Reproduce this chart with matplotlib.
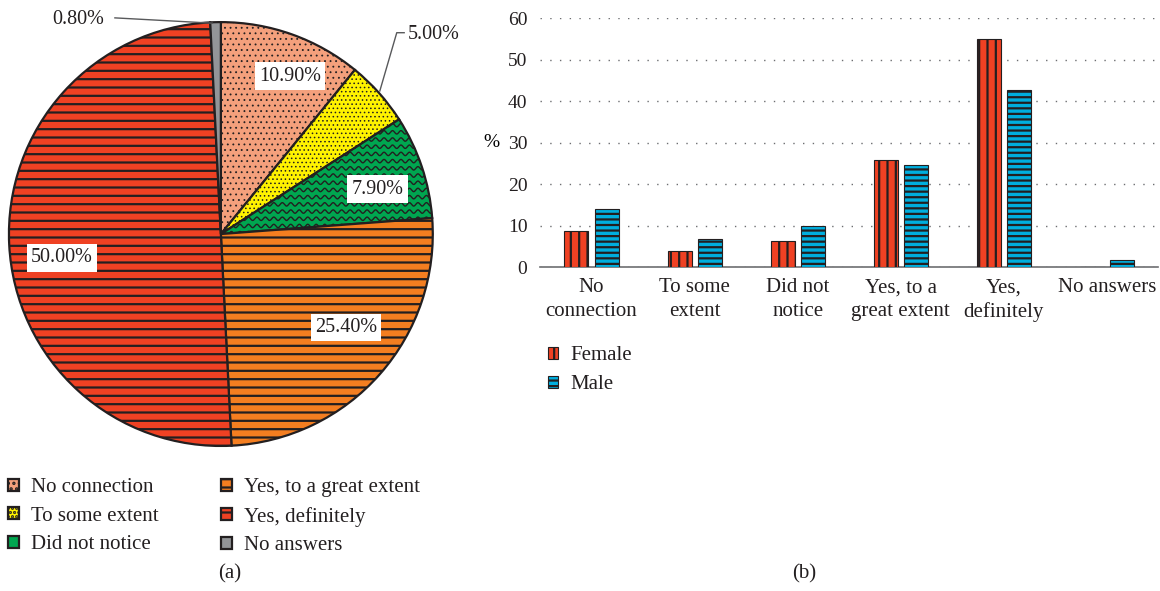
import matplotlib.pyplot as plt
import numpy as np

plt.rcParams['font.family'] = ['Liberation Serif', 'DejaVu Serif']
plt.rcParams['hatch.linewidth'] = 1.6
plt.rcParams['text.color'] = '#231f20'

# pie data
pie_labels = ["No connection", "To some extent", "Did not notice",
              "Yes, to a great extent", "Yes, definitely", "No answers"]
pie_values = [10.9, 5.0, 7.9, 25.4, 50.0, 0.8]
pie_colors = ['#f4a07c', '#fff200', '#00a650', '#f47e20', '#ef4123', '#939598']
pie_hatches = ['...', '....', '', '--', '--', '']

# bar data
bar_cats = ["No\nconnection", "To some\nextent", "Did not\nnotice",
            "Yes, to a\ngreat extent", "Yes,\ndefinitely", "No answers"]
female = [8.6, 3.8, 6.3, 25.8, 55.1, 0.0]
male = [14.1, 6.7, 9.8, 24.7, 42.6, 1.7]

fig = plt.figure(figsize=(11.6, 5.91), dpi=100)

# ---- (a) pie ----
ax1 = fig.add_axes([0.0004, 0.231, 0.380, 0.746])
wedges, _ = ax1.pie(pie_values, colors=pie_colors, startangle=90, counterclock=False,
                    wedgeprops=dict(edgecolor='#231f20', linewidth=1.6))
for w, h in zip(wedges, pie_hatches):
    w.set_hatch(h)
    if h.startswith('.') and hasattr(w, 'set_hatch_linewidth'):
        w.set_hatch_linewidth(0.6)
ax1.set_xlim(-1.04, 1.04)
ax1.set_ylim(-1.04, 1.04)
ax1.set_aspect('equal')

# wavy pattern for the green slice
xs = np.linspace(-1.05, 1.05, 900)
for y0 in np.arange(-1.05, 1.05, 0.034):
    ln, = ax1.plot(xs, y0 + 0.008 * np.sin(xs * 2 * np.pi / 0.04), color='#231f20', lw=1.0)
    ln.set_clip_path(wedges[2])

box = dict(facecolor='white', edgecolor='none', pad=3)
fs = 14.5
ax1.text(0.325, 0.745, "10.90%", ha='center', va='center', fontsize=fs, bbox=box)
ax1.text(0.74, 0.212, "7.90%", ha='center', va='center', fontsize=fs, bbox=box)
ax1.text(0.59, -0.44, "25.40%", ha='center', va='center', fontsize=fs, bbox=box)
ax1.text(-0.75, -0.113, "50.00%", ha='center', va='center', fontsize=fs, bbox=box)
ax1.text(-0.55, 1.012, "0.80%", ha='right', va='center', fontsize=fs)
ax1.plot([-0.50, -0.04], [1.02, 0.995], color='#58595b', lw=1, clip_on=False)
ax1.text(0.88, 0.94, "5.00%", ha='left', va='center', fontsize=fs)
ax1.plot([0.865, 0.83, 0.75], [0.95, 0.95, 0.675], color='#58595b', lw=1, clip_on=False)

fig.legend(wedges, pie_labels, ncol=2, loc='upper left', bbox_to_anchor=(0.0, 0.205),
           frameon=False, fontsize=15, handlelength=0.5, handleheight=0.5,
           labelspacing=0.46, columnspacing=3.0, handletextpad=0.6, borderaxespad=0)
fig.text(0.198, 0.022, "(a)", ha='center', fontsize=15)

# ---- (b) bars ----
ax2 = fig.add_axes([0.4655, 0.548, 0.533, 0.421])
x = np.arange(len(bar_cats))
bf = ax2.bar(x - 0.146, female, width=0.233, color='#ef4123', edgecolor='#231f20',
             linewidth=0.8, hatch='||', label='Female', zorder=3)
bm = ax2.bar(x + 0.146, male, width=0.233, color='#00aede', edgecolor='#231f20',
             linewidth=0.8, hatch='---', label='Male', zorder=3)
ax2.set_xlim(-0.5, 5.5)
ax2.set_ylim(0, 60)
ax2.set_yticks(range(0, 61, 10))
ax2.set_xticks(x)
ax2.set_xticklabels(bar_cats, fontsize=15, linespacing=1.35)
ax2.tick_params(axis='both', length=0, colors='#231f20')
ax2.tick_params(axis='y', pad=9, labelsize=14)
ax2.tick_params(axis='x', pad=8)
for s in ['top', 'right', 'left']:
    ax2.spines[s].set_visible(False)
ax2.spines['bottom'].set_color('#6d6e71')
ax2.spines['bottom'].set_linewidth(1.2)
ax2.yaxis.grid(True, linestyle=(0, (1, 6)), color='#6d6e71', linewidth=1)
ax2.set_axisbelow(True)
ax2.set_ylabel('%', rotation=0, fontsize=14, labelpad=12, va='center')

fig.legend(handles=[bf, bm], loc='upper left', bbox_to_anchor=(0.465, 0.428),
           frameon=False, fontsize=15, handlelength=0.5, handleheight=0.5,
           labelspacing=0.46, handletextpad=0.6, borderaxespad=0)
fig.text(0.693, 0.022, "(b)", ha='center', fontsize=15)

fig.savefig('out.png', dpi=100)
